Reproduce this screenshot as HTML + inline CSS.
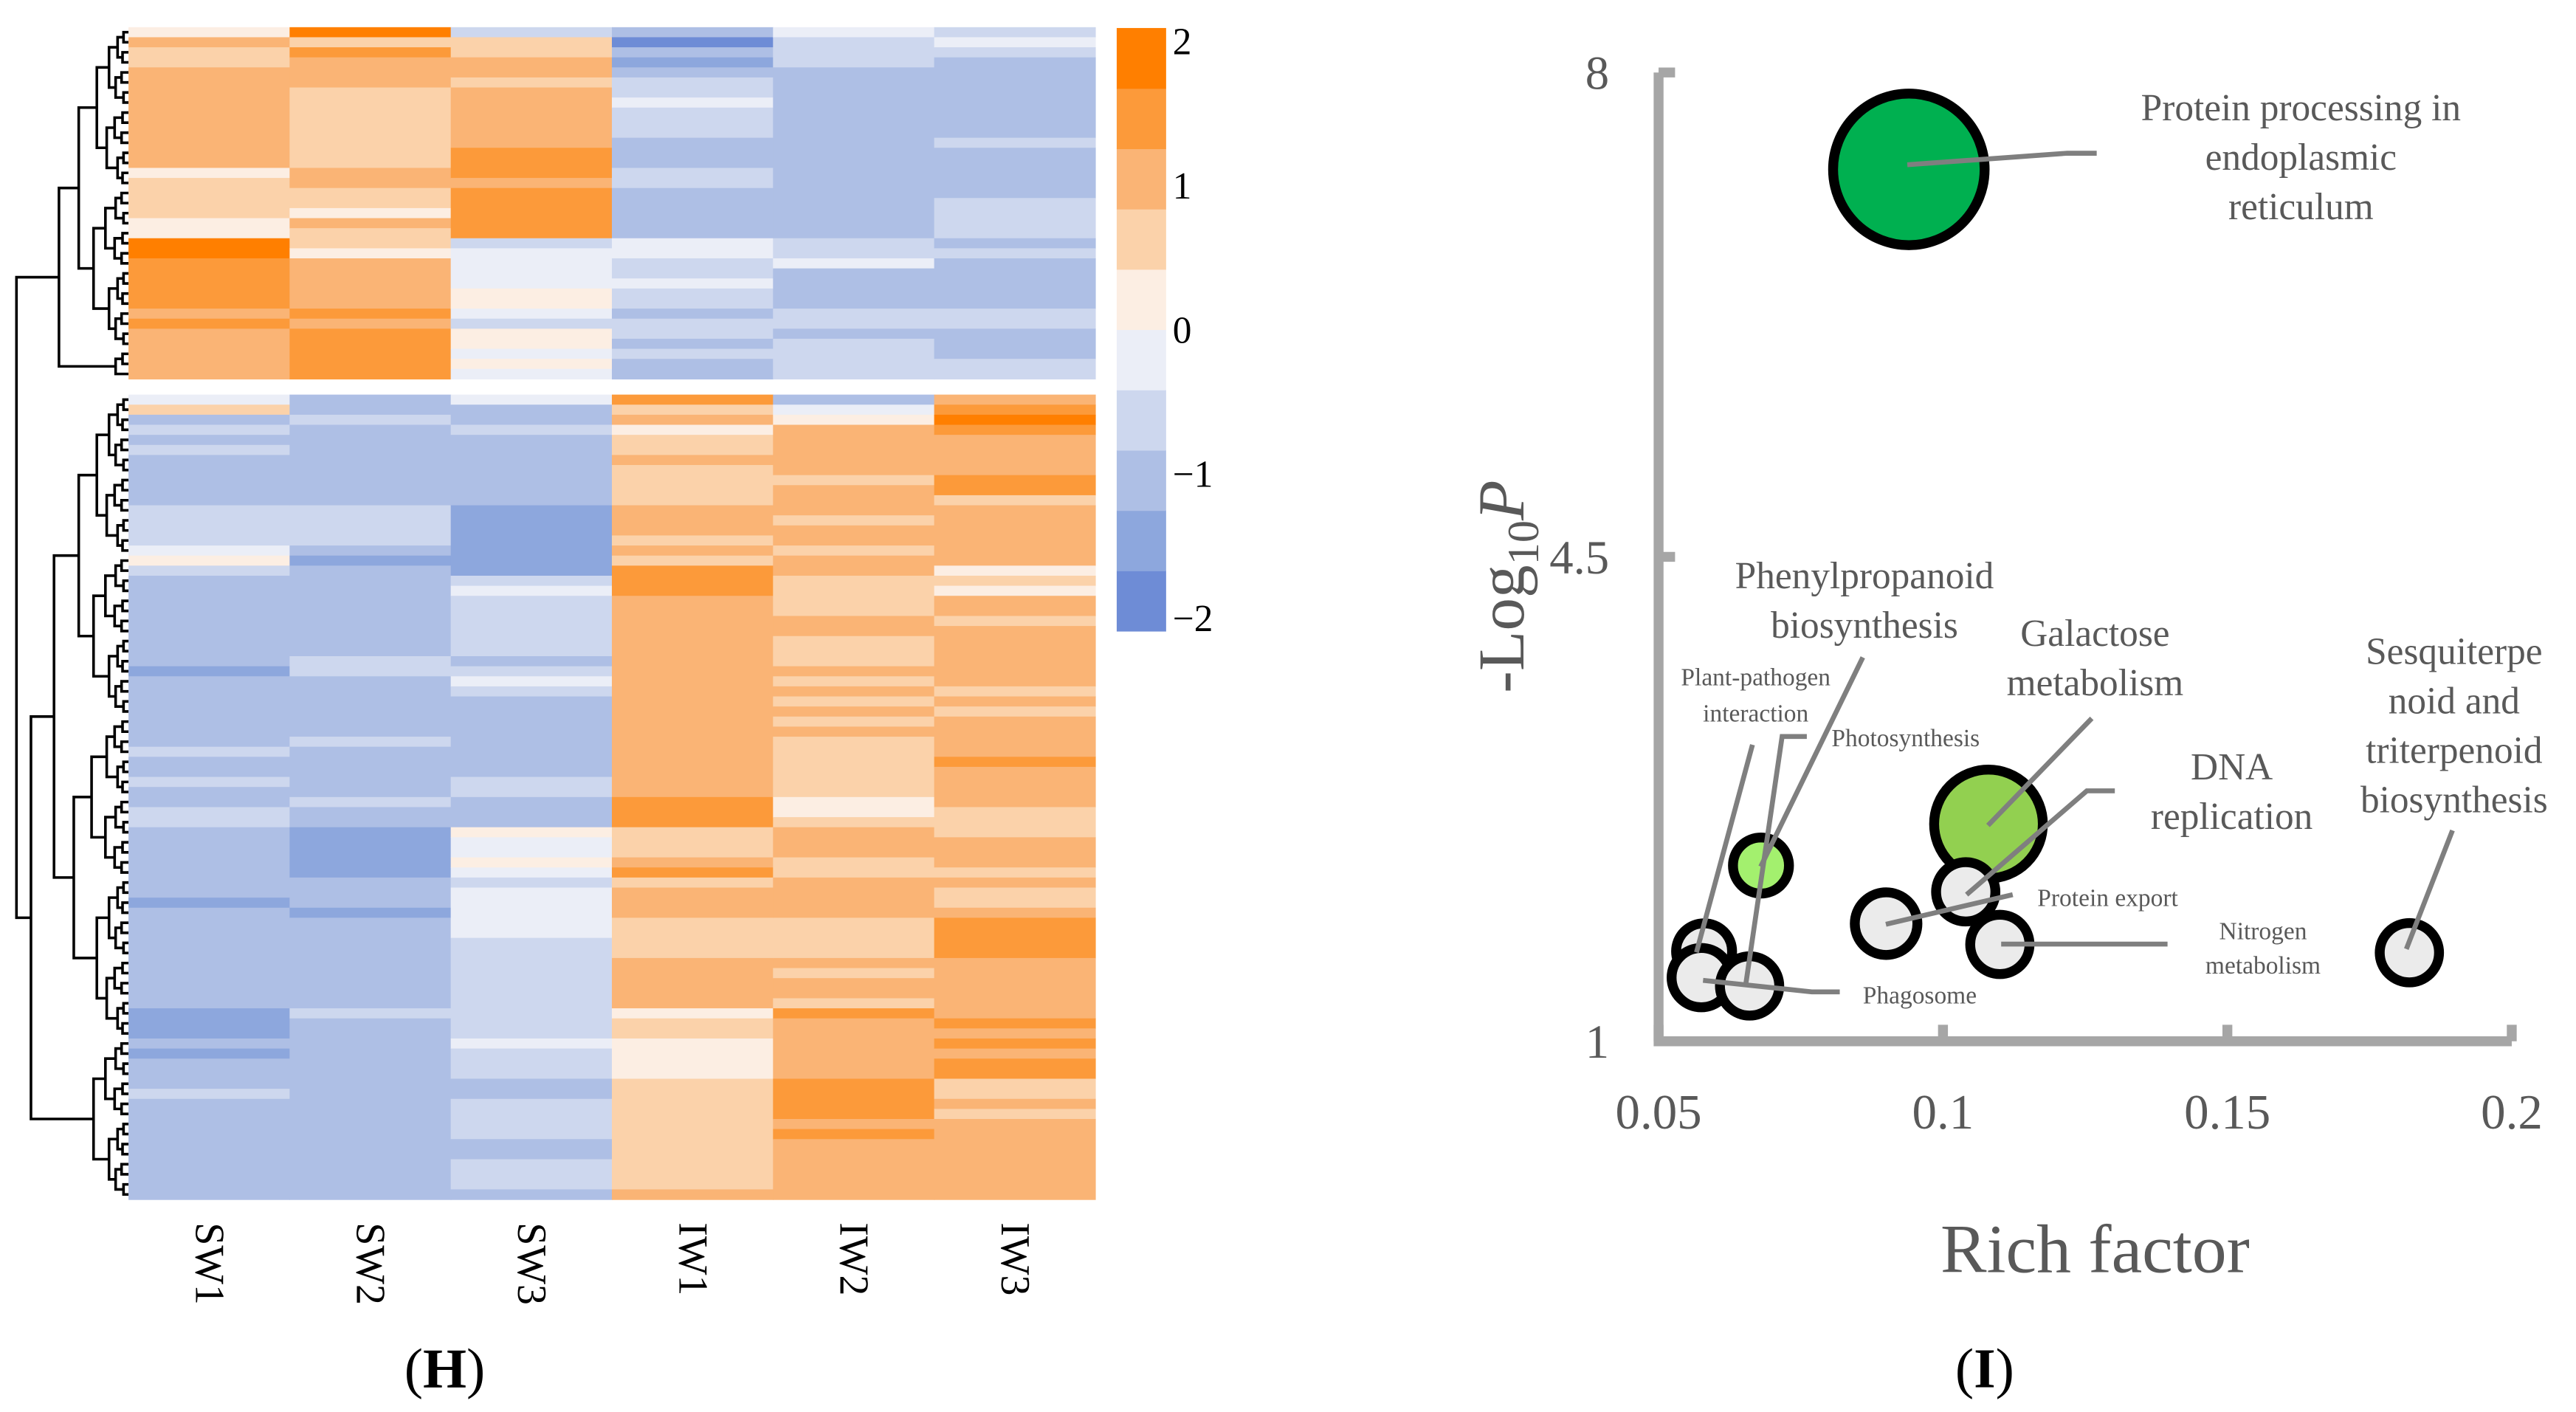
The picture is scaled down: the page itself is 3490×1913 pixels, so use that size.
<!DOCTYPE html>
<html><head><meta charset="utf-8">
<style>
html,body{margin:0;padding:0;background:#fff;}
svg, svg *{font-family:"Liberation Serif",serif;}
svg{display:block;}
</style></head>
<body>
<svg id="fig" width="3490" height="1913" viewBox="0 0 1564 857" preserveAspectRatio="none" xmlns="http://www.w3.org/2000/svg" font-family="Liberation Serif, serif">
<g id="heat"></g>
<g id="dendro" stroke="#000" stroke-width="1.6" fill="none"></g>
<g id="cbar"></g>
<g id="collabels" font-size="25" fill="#000"></g>
<text x="270" y="842" font-size="34" text-anchor="middle">(<tspan font-weight="bold">H</tspan>)</text>
<g id="bubble"></g>
<text x="1205" y="842" font-size="34" text-anchor="middle">(<tspan font-weight="bold">I</tspan>)</text>
</svg>
<script>
// ---------- Heatmap data (run-length: [value, rows]) ----------
const columns = ["SW1","SW2","SW3","IW1","IW2","IW3"];
const topSW1 = [[0.2,1],[1.0,1],[0.6,2],[1.0,10],[0.2,1],[0.6,4],[0.2,2],[2.0,2],[1.5,5],[1.0,1],[1.5,1],[1.0,5]];
const topSW2 = [[2.0,1],[0.6,1],[1.5,1],[1.0,3],[0.6,8],[1.0,2],[0.6,2],[0.2,1],[1.0,1],[0.6,2],[0.2,1],[1.0,5],[1.5,1],[1.0,1],[1.5,5]];
const topSW3 = [[-0.6,1],[0.6,2],[1.0,2],[0.6,1],[1.0,6],[1.5,3],[1.0,1],[1.5,5],[-0.6,1],[-0.2,4],[0.2,2],[-0.2,1],[-0.6,1],[0.2,2],[-0.2,1],[0.2,1],[-0.2,1]];
const topIW1 = [[-1.0,1],[-1.8,1],[-1.0,1],[-1.4,1],[-1.0,1],[-0.6,2],[-0.2,1],[-0.6,3],[-1.0,3],[-0.6,2],[-1.0,5],[-0.2,2],[-0.6,2],[-0.2,1],[-0.6,2],[-1.0,1],[-0.6,2],[-1.0,1],[-0.6,1],[-1.0,2]];
const topIW2 = [[-0.2,1],[-0.6,3],[-1.0,17],[-0.6,2],[-0.2,1],[-1.0,4],[-0.6,2],[-1.0,1],[-0.6,4]];
const topIW3 = [[-0.6,1],[-0.2,1],[-0.6,1],[-1.0,8],[-0.6,1],[-1.0,5],[-0.6,4],[-1.0,1],[-0.6,1],[-1.0,5],[-0.6,2],[-1.0,3],[-0.6,2]];
const botSW1 = [[-0.2,1],[0.6,1],[-1.0,1],[-0.6,1],[-1.0,1],[-0.6,1],[-1.0,5],[-0.6,4],[-0.2,1],[0.2,1],[-0.6,1],[-1.0,9],[-1.4,1],[-1.0,7],[-0.6,1],[-1.0,2],[-0.6,1],[-1.0,2],[-0.6,2],[-1.0,7],[-1.4,1],[-1.0,10],[-1.4,3],[-1.0,1],[-1.4,1],[-1.0,3],[-0.6,1],[-1.0,10]];
const botSW2 = [[-1.0,2],[-0.6,1],[-1.0,8],[-0.6,4],[-1.0,1],[-1.4,1],[-1.0,9],[-0.6,2],[-1.0,6],[-0.6,1],[-1.0,5],[-0.6,1],[-1.0,2],[-1.4,5],[-1.0,3],[-1.4,1],[-1.0,9],[-0.6,1],[-1.0,18]];
const botSW3 = [[-0.2,1],[-1.0,2],[-0.6,1],[-1.0,7],[-1.4,7],[-0.6,1],[-0.2,1],[-0.6,6],[-1.0,1],[-0.6,1],[-0.2,1],[-0.6,1],[-1.0,8],[-0.6,2],[-1.0,3],[0.2,1],[-0.2,2],[0.2,1],[-0.2,1],[-0.6,1],[-0.2,5],[-0.6,10],[-0.2,1],[-0.6,3],[-1.0,2],[-0.6,4],[-1.0,2],[-0.6,3],[-1.0,1]];
const botIW1 = [[1.5,1],[0.6,1],[1.0,1],[0.2,1],[0.6,2],[1.0,1],[0.6,4],[1.0,3],[0.6,1],[1.0,1],[0.6,1],[1.5,3],[1.0,20],[1.5,3],[0.6,3],[1.0,1],[1.5,1],[0.6,1],[1.0,3],[0.6,4],[1.0,5],[0.2,1],[0.6,2],[0.2,4],[0.6,11],[1.0,1]];
const botIW2 = [[-1.0,1],[-0.2,1],[0.2,1],[1.0,5],[0.6,1],[1.0,3],[0.6,1],[1.0,2],[0.6,1],[1.0,2],[0.6,4],[1.0,2],[0.6,3],[1.0,1],[0.6,1],[1.0,1],[0.6,1],[1.0,1],[0.6,1],[1.0,1],[0.6,6],[0.2,2],[0.6,1],[1.0,3],[0.6,2],[1.0,4],[0.6,4],[1.0,1],[0.6,1],[1.0,2],[0.6,1],[1.5,1],[1.0,6],[1.5,4],[1.0,1],[1.5,1],[1.0,6]];
const botIW3 = [[1.0,1],[1.5,1],[2.0,1],[1.5,1],[1.0,4],[1.5,2],[0.6,1],[1.0,6],[0.2,1],[0.6,1],[0.2,1],[1.0,2],[0.6,1],[1.0,6],[0.6,1],[1.0,1],[0.6,1],[1.0,4],[1.5,1],[1.0,4],[0.6,3],[1.0,3],[0.6,1],[1.0,1],[0.6,2],[1.0,1],[1.5,4],[1.0,6],[1.5,1],[1.0,1],[1.5,1],[1.0,1],[1.5,2],[0.6,2],[1.0,1],[0.6,1],[1.0,8]];
const topBlock = [topSW1,topSW2,topSW3,topIW1,topIW2,topIW3];
const botBlock = [botSW1,botSW2,botSW3,botIW1,botIW2,botIW3];
const legendTicks = [2,1,0,-1,-2];

// ---------- Bubble chart data ----------
const pathways = ["Protein processing","Galactose metabolism","Phenylpropanoid biosynthesis","Plant-pathogen interaction","Phagosome A","Photosynthesis","DNA replication","Protein export","Nitrogen metabolism","Sesquiterpenoid"];
const richFactor = [0.094,0.108,0.068,0.058,0.0575,0.066,0.090,0.104,0.110,0.182];
const negLogP = [7.3,2.57,2.27,1.65,1.46,1.40,1.85,2.08,1.70,1.64];
const geneCount = [46,33,17,17,18,18,19,18,18,18];
const bubbleFill = ["#00B050","#92D050","#A3F06E","#EBEBEB","#EBEBEB","#EBEBEB","#EBEBEB","#EBEBEB","#EBEBEB","#EBEBEB"];
const xTicks = [0.05,0.1,0.15,0.2];
const yTicks = [1,4.5,8];

const NS="http://www.w3.org/2000/svg";
function mk(tag,attrs,parent){const e=document.createElementNS(NS,tag);for(const k in attrs)e.setAttribute(k,attrs[k]);parent.appendChild(e);return e;}

const binColors=["#6E8CD6","#8DA7DD","#AEBFE5","#CDD7EE","#EBEEF7","#FCEEE3","#FBD2AA","#FAB475","#FC9A3A","#FF7F00"];
function colorOf(v){let i=Math.floor((v+2)/0.4);if(i<0)i=0;if(i>9)i=9;return binColors[i];}

const heat=document.getElementById('heat');
const hx0=78,hx1=665,colW=(hx1-hx0)/columns.length;
function drawBlock(block,y0,y1){
  const n=block[0].reduce((s,r)=>s+r[1],0);
  const rh=(y1-y0)/n;
  block.forEach((col,ci)=>{
    let r=0;
    col.forEach(seg=>{
      const el=mk('rect',{x:hx0+ci*colW,y:y0+r*rh,width:colW+0.3,height:seg[1]*rh+0.3,fill:colorOf(seg[0])},heat);
      
      
      r+=seg[1];
    });
  });
  return {n,rh};
}
const tb=drawBlock(topBlock,16.5,230);
const bb=drawBlock(botBlock,239.5,728);

const dg=document.getElementById('dendro');
function dendro(n,y0,rh,xRight,steps){
  let nodes=[];for(let i=0;i<n;i++)nodes.push({y:y0+(i+0.5)*rh,x:xRight});
  let lvl=0;
  while(nodes.length>1){
    const next=[];
    for(let i=0;i<nodes.length;i+=2){
      if(i+1<nodes.length){
        const a=nodes[i],b=nodes[i+1];
        const st=steps[Math.min(lvl,steps.length-1)];
        const x=Math.min(a.x,b.x)-st*(1+((i/2)%3)*0.2);
        mk('path',{d:`M${a.x},${a.y}H${x}V${b.y}H${b.x}`},dg);
        next.push({y:(a.y+b.y)/2,x:x});
      } else next.push(nodes[i]);
    }
    nodes=next;lvl++;
  }
  return nodes[0];
}
const rt=dendro(tb.n,16.5,tb.rh,78,[3,3,4,6,9,12]);
const rb=dendro(bb.n,239.5,bb.rh,78,[3,3,4,6,9,12,14]);
mk('path',{d:`M${rt.x},${rt.y}H10V${rb.y}H${rb.x}`},dg);

const cb=document.getElementById('cbar');
for(let i=0;i<10;i++){
  const el=mk('rect',{x:678,y:17+(9-i)*36.6,width:30,height:36.9,fill:binColors[i]},cb);
  
  
}
legendTicks.forEach(v=>{
  const y=200-v*87.5+8;
  const t=mk('text',{x:712,y:y,'font-size':23,fill:'#000'},cb);
  t.textContent=v<0?'\u2212'+Math.abs(v):String(v);
  
  
});

const cl=document.getElementById('collabels');
columns.forEach((c,i)=>{
  const cx=hx0+(i+0.5)*colW;
  const t=mk('text',{transform:`translate(${cx-8},742) rotate(90)`},cl);
  t.textContent=c;
  
  
});

const bg=document.getElementById('bubble');
const X=v=>1007+(v-0.05)/0.15*518;
const Y=v=>632-(v-1)/7*588;
const AX='#A6A6A6';
const ax=mk('path',{d:`M1007,${Y(8)}V${Y(1)}H${X(0.2)}`,stroke:AX,'stroke-width':6,fill:'none'},bg);


yTicks.forEach(v=>{
  mk('line',{x1:1007,x2:1017,y1:Y(v),y2:Y(v),stroke:AX,'stroke-width':6},bg);
  const t=mk('text',{x:977,y:Y(v)+10,'font-size':29,fill:'#595959','text-anchor':'end'},bg);
  t.textContent=String(v);
  
  
});
xTicks.forEach(v=>{
  mk('line',{x1:X(v),x2:X(v),y1:Y(1),y2:Y(1)-10,stroke:AX,'stroke-width':6},bg);
  const t=mk('text',{x:X(v),y:685,'font-size':30,fill:'#595959','text-anchor':'middle'},bg);
  t.textContent=String(v);
  
  
});
const leaders=[
 [[1158,100],[1255,93],[1273,93]],
 [[1131,399],[1069,526]],
 [[1064,452],[1030,578]],
 [[1097,447],[1082,447],[1060,597]],
 [[1270,436],[1207,501]],
 [[1284,480],[1267,480],[1194,543]],
 [[1222,543],[1145,561]],
 [[1316,573],[1215,573]],
 [[1117,602],[1100,602],[1034,595]],
 [[1489,504],[1461,576]]
];
pathways.forEach((p,i)=>{
  const c=mk('circle',{cx:X(richFactor[i]),cy:Y(negLogP[i]),r:geneCount[i],fill:bubbleFill[i],stroke:'#000','stroke-width':6},bg);
  
  
});
leaders.forEach(pts=>{
  const l=mk('polyline',{points:pts.map(p=>p.join(',')).join(' '),stroke:'#7F7F7F','stroke-width':3,fill:'none'},bg);
  
  
});
const labels=[
 [1397,[73,103,133],23,'middle',["Protein processing in","endoplasmic","reticulum"]],
 [1132,[357,387],23,'middle',["Phenylpropanoid","biosynthesis"]],
 [1066,[416,438],15,'middle',["Plant-pathogen","interaction"]],
 [1112,[453],15,'start',["Photosynthesis"]],
 [1272,[392,422],23,'middle',["Galactose","metabolism"]],
 [1355,[473,503],23,'middle',["DNA","replication"]],
 [1237,[550],15,'start',["Protein export"]],
 [1374,[570,591],15,'middle',["Nitrogen","metabolism"]],
 [1131,[609],15,'start',["Phagosome"]],
 [1490,[403,433,463,493],23,'middle',["Sesquiterpe","noid and","triterpenoid","biosynthesis"]]
];
labels.forEach(L=>{
  L[4].forEach((s,j)=>{
    const t=mk('text',{x:L[0],y:L[1][j],'font-size':L[2],fill:'#595959','text-anchor':L[3]},bg);
    t.textContent=s;
    
    
  });
});
const xt=mk('text',{x:1272,y:772,'font-size':42,fill:'#595959','text-anchor':'middle'},bg);
xt.textContent='Rich factor';


const yt=mk('text',{transform:'translate(925,356) rotate(-90)','font-size':40,fill:'#595959','text-anchor':'middle'},bg);
yt.innerHTML='-Log<tspan font-size="27" dy="9">10</tspan><tspan font-style="italic" dy="-9">P</tspan>';


</script>
</body></html>
